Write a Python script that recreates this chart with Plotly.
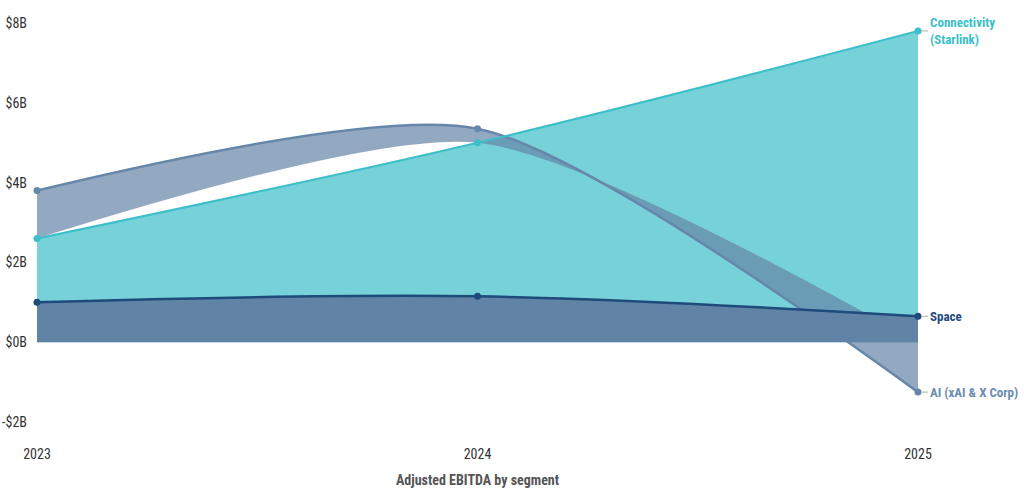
import plotly.graph_objects as go

# Adjusted EBITDA by segment, $B
years = [2023, 2024, 2025]
space = [1.0, 1.15, 0.65]
connectivity = [2.6, 5.0, 7.8]
ai = [3.8, 5.35, -1.25]

y_ticks = [-2, 0, 2, 4, 6, 8]
y_labels = ['-$2B', '$0B', '$2B', '$4B', '$6B', '$8B']

names = ['Space', 'Connectivity<br>(Starlink)', 'AI (xAI & X Corp)']

# AI band sits on top of connectivity where it is above it, otherwise on zero
ai_base = [c if c < a else 0 for a, c in zip(ai, connectivity)]

font = 'Roboto Condensed, Liberation Sans Narrow, Arial Narrow, sans-serif'

teal = '#3cbfc8'
navy = '#1e4b7c'
slate = '#6787aa'
smooth = 0.7

fig = go.Figure()

# fills first, lines on top
fig.add_trace(go.Scatter(x=years, y=connectivity, mode='lines', fill='tozeroy',
                         fillcolor='rgba(60,191,200,0.7)',
                         line=dict(width=0, shape='spline'), hoverinfo='skip'))
fig.add_trace(go.Scatter(x=years, y=ai_base, mode='lines',
                         line=dict(width=0, shape='spline', smoothing=smooth),
                         hoverinfo='skip'))
fig.add_trace(go.Scatter(x=years, y=ai, mode='lines', fill='tonexty',
                         fillcolor='rgba(101,133,168,0.7)',
                         line=dict(width=0, shape='spline', smoothing=smooth),
                         hoverinfo='skip'))
fig.add_trace(go.Scatter(x=years, y=ai, mode='lines+markers', cliponaxis=False,
                         line=dict(color=slate, width=2.5, shape='spline', smoothing=smooth),
                         marker=dict(size=7, color=slate)))
fig.add_trace(go.Scatter(x=years, y=space, mode='lines', fill='tozeroy',
                         fillcolor='#6083a6',
                         line=dict(width=0, shape='spline'), hoverinfo='skip'))
fig.add_trace(go.Scatter(x=years, y=space, mode='lines+markers', cliponaxis=False,
                         line=dict(color=navy, width=2.5, shape='spline'),
                         marker=dict(size=7, color=navy)))
fig.add_trace(go.Scatter(x=years, y=connectivity, mode='lines+markers', cliponaxis=False,
                         line=dict(color=teal, width=2, shape='spline'),
                         marker=dict(size=7, color=teal)))

# end labels
for name, vals, col in zip(names, [space, connectivity, ai], [navy, '#3bbfc9', '#6b8db0']):
    fig.add_annotation(x=years[-1], y=vals[-1], text='<b>' + name + '</b>',
                       xanchor='left', align='left', showarrow=True,
                       ax=10, ay=0, arrowhead=0, arrowwidth=1, arrowcolor='#b0b0b0',
                       standoff=3, font=dict(family=font, size=13, color=col))

fig.update_layout(
    width=1024, height=493,
    margin=dict(l=37, r=106, t=9, b=49),
    plot_bgcolor='white', paper_bgcolor='white',
    showlegend=False,
    font=dict(family=font, size=14, color='#333333'),
    xaxis=dict(range=[2023, 2025], tickvals=years, showgrid=False, zeroline=False,
               showline=False, automargin=False,
               title=dict(text='<b>Adjusted EBITDA by segment</b>', standoff=14,
                          font=dict(size=14, color='#555555'))),
    yaxis=dict(range=[-2.55, 8.35], tickvals=y_ticks, ticktext=y_labels,
               showgrid=False, zeroline=False, showline=False, automargin=False,
               ticklabelstandoff=9),
)

# drop the default body margin so the figure fills the window
fig.write_html('out.html', config={'displayModeBar': False},
               post_script="document.body.style.margin='0';")
